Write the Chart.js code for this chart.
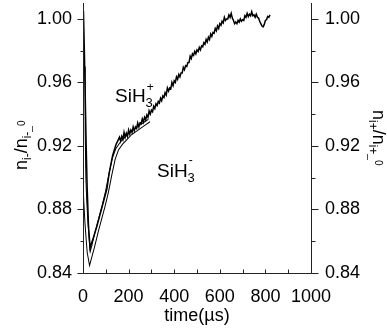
<!DOCTYPE html>
<html lang="en">
<head>
<meta charset="UTF-8">
<title>SiH3 density</title>
<script src="https://cdn.jsdelivr.net/npm/chart.js@4"></script>
<style>
  body { margin: 0; background: #fff; }
  #wrap { width: 387px; height: 334px; }
</style>
</head>
<body>
<div id="wrap"><canvas id="c" width="387" height="334"></canvas></div>
<script>
// axis ticks
const xTicks = [0, 200, 400, 600, 800, 1000];
const xMinor = [100, 300, 500, 700, 900];
const yTicks = [0.84, 0.88, 0.92, 0.96, 1.00];
const yMinor = [0.86, 0.90, 0.94, 0.98];

// SiH3+ (noisy black trace), time in us
const tPlus = [2, 6, 10, 14, 18, 24, 31, 45, 60, 75, 90, 105, 115, 130, 145, 155,
  160, 165, 170, 175, 180, 185, 190, 195, 200, 205, 210, 215, 220, 225, 230, 235,
  240, 245, 250, 255, 260, 265, 270, 275, 280, 285, 290, 295, 300, 305, 310, 315,
  320, 325, 330, 335, 340, 345, 350, 355, 360, 365, 370, 375, 380, 385, 390, 395,
  400, 405, 410, 415, 420, 425, 430, 435, 440, 445, 450, 455, 460, 465, 470, 475,
  480, 485, 490, 495, 500, 505, 510, 515, 520, 525, 530, 535, 540, 545, 550, 555,
  560, 565, 570, 575, 580, 585, 590, 595, 600, 605, 610, 615, 620, 625, 630, 635,
  640, 645, 650, 655, 660, 665, 670, 675, 680, 685, 690, 695, 700, 705, 710, 715,
  720, 725, 730, 735, 740, 745, 750, 755, 760, 765, 770, 775, 780, 785, 790, 795,
  800, 805, 810, 815, 820];
const nPlus = [1.005, 0.980, 0.950, 0.920, 0.895, 0.870, 0.856, 0.862, 0.869, 0.877, 0.885, 0.893, 0.903, 0.914, 0.921, 0.924,
  0.9255, 0.9230, 0.9260, 0.9240, 0.9285, 0.9255, 0.9280, 0.9260, 0.9300, 0.9275, 0.9300, 0.9285, 0.9320, 0.9295, 0.9320, 0.9310,
  0.9345, 0.9320, 0.9345, 0.9340, 0.9370, 0.9350, 0.9380, 0.9365, 0.9395, 0.9380, 0.9420, 0.9400, 0.9425, 0.9415, 0.9450, 0.9435,
  0.9465, 0.9455, 0.9480, 0.9470, 0.9500, 0.9485, 0.9515, 0.9505, 0.9535, 0.9520, 0.9565, 0.9545, 0.9565, 0.9560, 0.9600, 0.9580,
  0.9610, 0.9600, 0.9635, 0.9620, 0.9650, 0.9635, 0.9660, 0.9660, 0.9695, 0.9680, 0.9705, 0.9700, 0.9725, 0.9725, 0.9765, 0.9750,
  0.9780, 0.9770, 0.9795, 0.9780, 0.9805, 0.9795, 0.9820, 0.9805, 0.9830, 0.9825, 0.9850, 0.9840, 0.9870, 0.9855, 0.9885, 0.9870,
  0.9905, 0.9890, 0.9915, 0.9910, 0.9940, 0.9925, 0.9955, 0.9940, 0.9970, 0.9960, 0.9985, 0.9975, 1.0010, 0.9990, 1.0000, 1.0000,
  1.0025, 1.0010, 1.0035, 1.0005, 0.9990, 0.9970, 0.9980, 0.9970, 0.9990, 0.9980, 1.0000, 0.9985, 0.9995, 0.9990, 1.0020, 1.0010,
  1.0035, 1.0015, 1.0030, 1.0020, 1.0045, 1.0020, 1.0025, 1.0010, 1.0030, 1.0010, 1.0005, 0.9985, 0.9970, 0.9955, 0.9950, 0.9965,
  0.9990, 0.9995, 1.0015, 1.0010, 1.0025];

// SiH3- (hollow trace)
const tMinus = [0, 3, 6, 10, 15, 20, 25, 30, 45, 60, 75, 90, 105, 120, 135, 150, 170, 190, 210, 230, 250, 270, 290];
const nMinus = [0.970, 0.930, 0.900, 0.885, 0.872, 0.862, 0.853, 0.849, 0.857, 0.866, 0.874, 0.882, 0.891, 0.902, 0.912, 0.918, 0.922, 0.925, 0.928, 0.930, 0.932, 0.934, 0.936];

const toXY = (ts, vs) => ts.map((t, i) => ({ x: t, y: vs[i] }));
const FONT = "'Liberation Sans', Arial, sans-serif";

// draws a run of text pieces (normal / sub / super) along a rotated baseline
function richText(ctx, parts, x, y, angle) {
  ctx.save();
  ctx.translate(x, y);
  ctx.rotate(angle);
  ctx.fillStyle = '#000';
  ctx.textBaseline = 'alphabetic';
  ctx.textAlign = 'left';
  let cx = 0;
  for (const p of parts) {
    ctx.font = p.size + 'px ' + FONT;
    ctx.fillText(p.t, cx, p.dy || 0);
    cx += ctx.measureText(p.t).width + (p.gap || 0);
  }
  ctx.restore();
}

const decor = {
  id: 'decor',
  afterDraw(chart) {
    const ctx = chart.ctx;
    const a = chart.chartArea;
    const xs = chart.scales.x, ys = chart.scales.y;
    const L = Math.round(a.left) + 0.5, R = Math.round(a.right) + 0.5, B = Math.round(a.bottom) + 0.5;
    ctx.save();
    ctx.strokeStyle = '#222';
    ctx.lineWidth = 1;
    ctx.beginPath();
    ctx.moveTo(L, a.top); ctx.lineTo(L, B); ctx.lineTo(R, B); ctx.lineTo(R, a.top);
    // y ticks, outward on both sides
    yTicks.forEach(v => {
      const y = Math.round(ys.getPixelForValue(v)) + 0.5;
      ctx.moveTo(L - 6, y); ctx.lineTo(L, y);
      ctx.moveTo(R, y); ctx.lineTo(R + 7, y);
    });
    yMinor.forEach(v => {
      const y = Math.round(ys.getPixelForValue(v)) + 0.5;
      ctx.moveTo(L - 3, y); ctx.lineTo(L, y);
      ctx.moveTo(R, y); ctx.lineTo(R + 4, y);
    });
    // x ticks, inward
    xTicks.concat(xMinor).forEach(v => {
      const x = Math.round(xs.getPixelForValue(v)) + 0.5;
      ctx.moveTo(x, B); ctx.lineTo(x, B - 4);
    });
    ctx.stroke();
    ctx.restore();

    // axis titles
    ctx.save();
    ctx.fillStyle = '#000';
    ctx.font = '18px ' + FONT;
    ctx.textAlign = 'center';
    ctx.textBaseline = 'alphabetic';
    ctx.fillText('time(\u00b5s)', (a.left + a.right) / 2, 321);
    ctx.restore();

    richText(ctx, [
      { t: 'n', size: 18 }, { t: 'i-', size: 12, dy: 4 }, { t: '/n', size: 18 },
      { t: 'i-', size: 12, dy: 4 }, { t: '_', size: 10, dy: 4 }, { t: '0', size: 10, dy: -2 }
    ], 27, 170, -Math.PI / 2);

    richText(ctx, [
      { t: 'n', size: 18 }, { t: 'i+', size: 12, dy: 4 }, { t: '/n', size: 18 },
      { t: 'i+', size: 12, dy: 4 }, { t: '_', size: 10, dy: 4 }, { t: '0', size: 10, dy: -2 }
    ], 373, 110, Math.PI / 2);

    // species labels
    richText(ctx, [{ t: 'SiH', size: 19 }, { t: '3', size: 13, dy: 5, gap: -6 }, { t: '+', size: 12, dy: -11 }], 115, 102, 0);
    richText(ctx, [{ t: 'SiH', size: 19 }, { t: '3', size: 13, dy: 5, gap: -6 }, { t: '-', size: 12, dy: -13 }], 157, 177, 0);
  }
};

const tickFont = { family: FONT, size: 18 };
// keep plot edges where the reference has them
const fixBox = (w, h) => s => {
  if (w) s.width = w;
  if (h) s.height = h;
  s.paddingTop = 0; s.paddingBottom = 0; s.paddingLeft = 0; s.paddingRight = 0;
};

new Chart(document.getElementById('c'), {
  type: 'line',
  data: {
    datasets: [
      { label: 'SiH3+', data: toXY(tPlus, nPlus), borderColor: '#000', borderWidth: 1.5, order: 0, yAxisID: 'y' },
      { label: 'SiH3- inner', data: toXY(tMinus, nMinus), borderColor: '#fff', borderWidth: 2, order: 1, yAxisID: 'y' },
      { label: 'SiH3- outer', data: toXY(tMinus, nMinus), borderColor: '#000', borderWidth: 4, order: 2, yAxisID: 'y' }
    ]
  },
  options: {
    responsive: false,
    animation: false,
    parsing: false,
    layout: { padding: { top: 3 } },
    elements: { point: { radius: 0 }, line: { tension: 0 } },
    plugins: { legend: { display: false }, tooltip: { enabled: false } },
    scales: {
      x: {
        type: 'linear', min: 0, max: 1000,
        grid: { display: false, drawTicks: false }, border: { display: false },
        afterBuildTicks: s => { s.ticks = xTicks.map(v => ({ value: v })); },
        afterFit: fixBox(0, 61),
        ticks: { padding: 13, color: '#000', font: tickFont, maxRotation: 0, autoSkip: false, callback: v => String(v) }
      },
      y: {
        position: 'left', min: 0.84, max: 1.01,
        grid: { display: false, drawTicks: false }, border: { display: false },
        afterBuildTicks: s => { s.ticks = yTicks.map(v => ({ value: v })); },
        afterFit: fixBox(83, 0),
        ticks: { padding: 11, color: '#000', font: tickFont, callback: v => v.toFixed(2) }
      },
      y2: {
        position: 'right', min: 0.84, max: 1.01,
        grid: { display: false, drawTicks: false }, border: { display: false },
        afterBuildTicks: s => { s.ticks = yTicks.map(v => ({ value: v })); },
        afterFit: fixBox(76, 0),
        ticks: { padding: 14, color: '#000', font: tickFont, callback: v => v.toFixed(2) }
      }
    }
  },
  plugins: [decor]
});
</script>
</body>
</html>
